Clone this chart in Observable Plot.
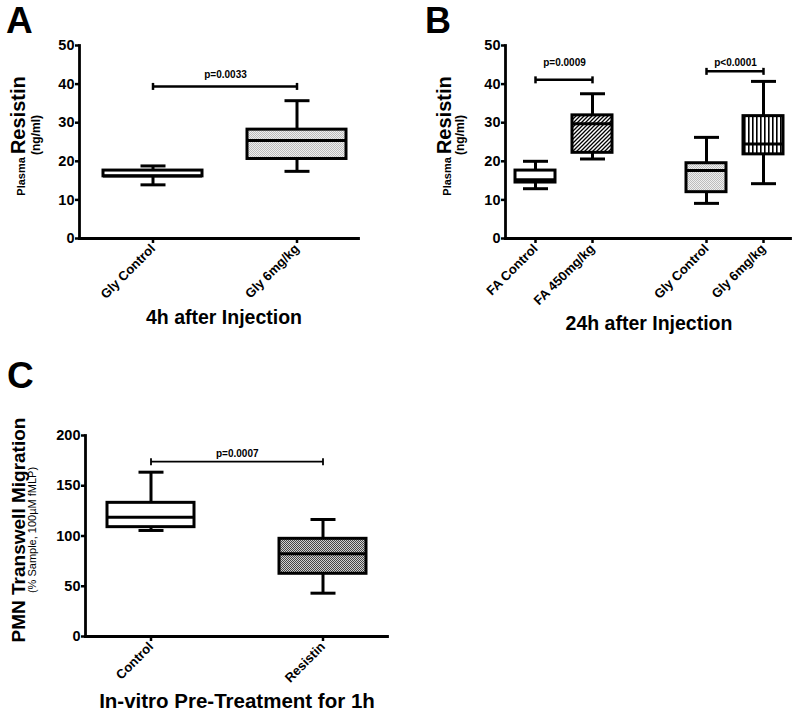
<!DOCTYPE html>
<html><head><meta charset="utf-8">
<script src="https://cdn.jsdelivr.net/npm/d3@7"></script>
<script src="https://cdn.jsdelivr.net/npm/@observablehq/plot@0.6"></script>
<style>
body{margin:0;background:#fff;}
#wrap{position:relative;width:800px;height:715px;overflow:hidden;font-family:"Liberation Sans",Arial,sans-serif;}
.panel{position:absolute;}
#overlay{position:absolute;left:0;top:0;pointer-events:none;}
</style></head><body>
<svg width="0" height="0" style="position:absolute">
<defs>
<pattern id="dotsLight" width="2" height="2" patternUnits="userSpaceOnUse"><rect width="2" height="2" fill="#efefef"/><rect width="1" height="1" fill="#bdbdbd"/><rect x="1" y="1" width="1" height="1" fill="#bdbdbd"/></pattern>
<pattern id="dotsDark" width="2" height="2" patternUnits="userSpaceOnUse"><rect width="2" height="2" fill="#d0d0d0"/><rect width="1" height="1" fill="#444"/><rect x="1" y="1" width="1" height="1" fill="#444"/></pattern>
<pattern id="diag" width="4" height="4" patternUnits="userSpaceOnUse"><rect width="4" height="4" fill="#fff"/><path d="M-1,1 l2,-2 M0,4 l4,-4 M3,5 l2,-2" stroke="#000" stroke-width="1.3"/></pattern>
<pattern id="vstripe" width="4" height="4" patternUnits="userSpaceOnUse"><rect width="4" height="4" fill="#fff"/><rect width="1.6" height="4" fill="#000"/></pattern>
</defs></svg>
<div id="wrap">
<div id="pa" class="panel" style="left:0;top:0"></div>
<div id="pb" class="panel" style="left:400px;top:0"></div>
<div id="pc" class="panel" style="left:0;top:400px"></div>
<svg id="overlay" width="800" height="715" font-family="Liberation Sans, Arial, sans-serif" font-weight="bold" fill="#000">
<text x="6" y="33" font-size="37">A</text>
<text x="425" y="33" font-size="36">B</text>
<text x="7" y="388" font-size="37">C</text>
<text transform="translate(25,136) rotate(-90)" text-anchor="middle"><tspan font-size="11">Plasma </tspan><tspan font-size="20">Resistin</tspan></text>
<text transform="translate(40,135) rotate(-90)" text-anchor="middle" font-size="12">(ng/ml)</text>
<text x="224" y="324" text-anchor="middle" font-size="19.5">4h after Injection</text>
<text transform="translate(451,136) rotate(-90)" text-anchor="middle"><tspan font-size="11">Plasma </tspan><tspan font-size="20">Resistin</tspan></text>
<text transform="translate(464,135) rotate(-90)" text-anchor="middle" font-size="12">(ng/ml)</text>
<text x="649" y="330" text-anchor="middle" font-size="19.5">24h after Injection</text>
<text transform="translate(25,530) rotate(-90)" text-anchor="middle" font-size="19">PMN Transwell Migration</text>
<text transform="translate(36,530) rotate(-90)" text-anchor="middle" font-size="11" font-weight="normal">(% Sample, 100µM fMLP)</text>
<text x="237" y="708" text-anchor="middle" font-size="20.5">In-vitro Pre-Treatment for 1h</text>
</svg>
</div>
<script>
// Panel A data
const aCats = ["Gly Control", "Gly 6mg/kg"];
const aMin = [13.9, 17.4];
const aQ1 = [16.1, 20.6];
const aMed = [16.2, 25.4];
const aQ3 = [17.6, 28.2];
const aMax = [18.8, 35.7];
const aFill = ["white", "url(#dotsLight)"];
const aSigFrom = ["Gly Control"];
const aSigTo = ["Gly 6mg/kg"];
const aSigY = [39.4];
const aSigLabelY = [42.4];
const aSigLabel = ["p=0.0033"];
const aTicks = [0, 10, 20, 30, 40, 50];

// Panel B data
const bCats = ["FA Control", "FA 450mg/kg", "Gly Control", "Gly 6mg/kg"];
const bDomain = [bCats[0], bCats[1], " ", bCats[2], bCats[3]];
const bMin = [12.9, 20.6, 9.1, 14.2];
const bQ1 = [14.5, 22.2, 12.0, 21.8];
const bMed = [15.2, 29.7, 17.6, 24.5];
const bQ3 = [17.6, 31.9, 19.5, 31.7];
const bMax = [20.0, 37.5, 26.2, 40.7];
const bFill = ["white", "url(#diag)", "url(#dotsLight)", "url(#vstripe)"];
const bSigFrom = ["FA Control", "Gly Control"];
const bSigTo = ["FA 450mg/kg", "Gly 6mg/kg"];
const bSigY = [41.1, 43.3];
const bSigLabelY = [45.5, 45.5];
const bSigLabel = ["p=0.0009", "p<0.0001"];
const bTicks = [0, 10, 20, 30, 40, 50];

// Panel C data
const cCats = ["Control", "Resistin"];
const cMin = [105.5, 43.1];
const cQ1 = [108.8, 62.4];
const cMed = [118.7, 82.3];
const cQ3 = [133.0, 97.2];
const cMax = [163.5, 116.4];
const cFill = ["white", "url(#dotsDark)"];
const cSigFrom = ["Control"];
const cSigTo = ["Resistin"];
const cSigY = [174];
const cSigLabelY = [181.6];
const cSigLabel = ["p=0.0007"];
const cTicks = [0, 50, 100, 150, 200];

const FONT = "Liberation Sans, Arial, sans-serif";
const hcap = {draw(ctx, size) { const w = Math.sqrt(size / Math.PI); ctx.moveTo(-w, 0); ctx.lineTo(w, 0); }};
const vcap = {draw(ctx, size) { const h = Math.sqrt(size / Math.PI); ctx.moveTo(0, -h); ctx.lineTo(0, h); }};

function boxPanel(cfg) {
  const rows = cfg.cats.map((c, i) => ({cat: c, min: cfg.min[i], q1: cfg.q1[i], med: cfg.med[i], q3: cfg.q3[i], max: cfg.max[i], fill: cfg.fill[i]}));
  const sig = cfg.sigFrom.map((f, i) => ({from: f, to: cfg.sigTo[i], y: cfg.sigY[i], ly: cfg.sigLabelY[i], label: cfg.sigLabel[i]}));
  const capPts = sig.flatMap(s => [{x: s.from, y: s.y}, {x: s.to, y: s.y}]);
  const n = cfg.domain.length;
  const step = (cfg.xRange[1] - cfg.xRange[0]) / (n - cfg.pad);
  return Plot.plot({
    width: cfg.width, height: cfg.height,
    marginLeft: cfg.ml, marginRight: cfg.mr, marginTop: cfg.mt, marginBottom: cfg.mb,
    style: {fontFamily: FONT, color: "black", background: "transparent", overflow: "visible"},
    x: {type: "band", domain: cfg.domain, range: cfg.xRange, paddingInner: cfg.pad, paddingOuter: 0, align: 0.5},
    y: {domain: cfg.yDomain},
    color: {type: "identity"},
    marks: [
      Plot.frame({anchor: "left", strokeWidth: 2.8}),
      Plot.frame({anchor: "bottom", strokeWidth: 2.8}),
      Plot.axisY(cfg.yTicks, {tickSize: 4, tickPadding: 1, strokeWidth: 2.5, fontSize: 14.5, fontWeight: "bold", label: null}),
      Plot.axisX(cfg.cats, {tickSize: 5, tickPadding: 3, strokeWidth: 2.5, tickRotate: -45, fontSize: 13, fontWeight: "bold", label: null}),
      Plot.ruleX(rows, {x: "cat", y1: "min", y2: "max", strokeWidth: 3}),
      Plot.barY(rows, {x: "cat", y1: "q1", y2: "q3", fill: "fill", stroke: "black", strokeWidth: 3}),
      Plot.tickY(rows, {x: "cat", y: "med", strokeWidth: 3}),
      Plot.dot(rows, {x: "cat", y: "min", r: 12.5, symbol: hcap, fill: "none", stroke: "black", strokeWidth: 3}),
      Plot.dot(rows, {x: "cat", y: "max", r: 12.5, symbol: hcap, fill: "none", stroke: "black", strokeWidth: 3}),
      Plot.link(sig, {x1: "from", x2: "to", y1: "y", y2: "y", stroke: "black", strokeWidth: cfg.sigW}),
      Plot.dot(capPts, {x: "x", y: "y", r: 3.5, symbol: vcap, fill: "none", stroke: "black", strokeWidth: cfg.sigW}),
      Plot.text(sig, {x: "from", y: "ly", dx: step / 2, text: "label", fontSize: 10, fontWeight: "bold", fill: "black"})
    ]
  });
}

document.getElementById("pa").append(boxPanel({
  cats: aCats, domain: aCats, min: aMin, q1: aQ1, med: aMed, q3: aQ3, max: aMax, fill: aFill,
  sigFrom: aSigFrom, sigTo: aSigTo, sigY: aSigY, sigLabelY: aSigLabelY, sigLabel: aSigLabel,
  yDomain: [0, 50], yTicks: aTicks, width: 380, height: 300, ml: 79, mr: 22, mt: 45, mb: 62,
  xRange: [102, 347], pad: 0.31, sigW: 2.5
}));
document.getElementById("pb").append(boxPanel({
  cats: bCats, domain: bDomain, min: bMin, q1: bQ1, med: bMed, q3: bQ3, max: bMax, fill: bFill,
  sigFrom: bSigFrom, sigTo: bSigTo, sigY: bSigY, sigLabelY: bSigLabelY, sigLabel: bSigLabel,
  yDomain: [0, 50], yTicks: bTicks, width: 400, height: 310, ml: 105, mr: 10, mt: 45, mb: 72,
  xRange: [113, 386], pad: 0.293, sigW: 2.5
}));
document.getElementById("pc").append(boxPanel({
  cats: cCats, domain: cCats, min: cMin, q1: cQ1, med: cMed, q3: cQ3, max: cMax, fill: cFill,
  sigFrom: cSigFrom, sigTo: cSigTo, sigY: cSigY, sigLabelY: cSigLabelY, sigLabel: cSigLabel,
  yDomain: [0, 200], yTicks: cTicks, width: 420, height: 300, ml: 85, mr: 33, mt: 35, mb: 64,
  xRange: [107, 367], pad: 0.493, sigW: 1.8
}));
</script>
</body></html>
